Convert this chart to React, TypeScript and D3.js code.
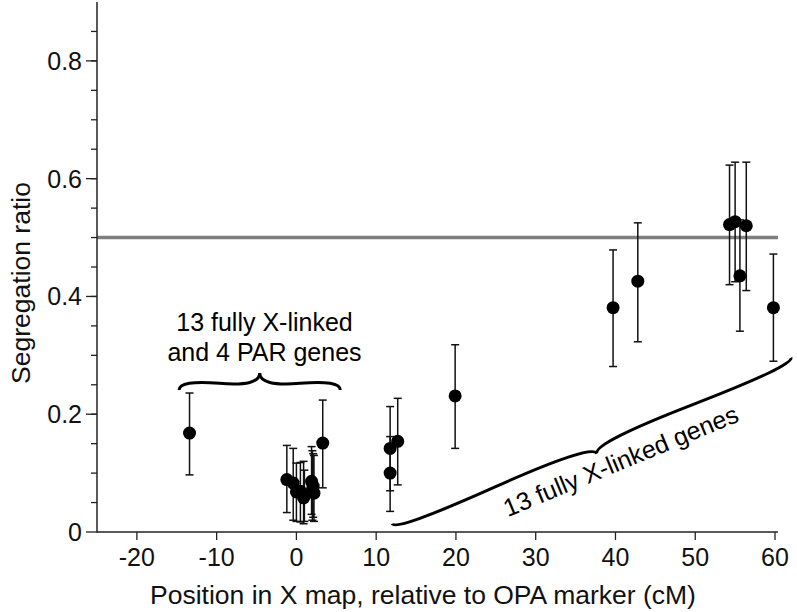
import React from "react";
import * as d3 from "d3";

// ---- data ----
// left group (PAR + some X-linked) and right group (fully X-linked)
const positions = [-13.4, -1.2, -0.4, 0.0, 0.5, 0.9, 1.0, 1.9, 2.0, 2.1, 2.2, 3.3, 11.75, 11.75, 12.7, 19.9, 39.7, 42.8, 54.3, 55.0, 55.6, 56.4, 59.8];
const ratios = [0.168, 0.089, 0.083, 0.068, 0.069, 0.058, 0.062, 0.086, 0.072, 0.078, 0.066, 0.151, 0.1, 0.142, 0.154, 0.231, 0.381, 0.426, 0.522, 0.527, 0.435, 0.52, 0.381];
const lowers = [0.097, 0.033, 0.02, 0.018, 0.017, 0.014, 0.018, 0.03, 0.02, 0.025, 0.018, 0.075, 0.035, 0.07, 0.08, 0.142, 0.281, 0.323, 0.42, 0.425, 0.341, 0.41, 0.29];
const uppers = [0.236, 0.147, 0.142, 0.117, 0.118, 0.12, 0.105, 0.145, 0.138, 0.133, 0.13, 0.224, 0.162, 0.213, 0.227, 0.318, 0.479, 0.525, 0.623, 0.628, 0.53, 0.628, 0.472];

const xTicks = [-20, -10, 0, 10, 20, 30, 40, 50, 60];
const yTicks = [0, 0.2, 0.4, 0.6, 0.8];
const yMinorTicks = d3.range(0.05, 0.9, 0.05);
const expectedRatio = 0.5;

const xLabel = "Position in X map, relative to OPA marker (cM)";
const yLabel = "Segregation ratio";
const leftNote = ["13 fully X-linked", "and 4 PAR genes"];
const rightNote = "13 fully X-linked genes";

const W = 797;
const H = 612;
const FONT = "'Liberation Sans', Arial, Helvetica, sans-serif";

// curly brace between two points, tip pointing to the left of the direction (x1->x2)
function bracePath(x1: number, y1: number, x2: number, y2: number, w: number, q: number) {
  let dx = x1 - x2;
  let dy = y1 - y2;
  const len = Math.sqrt(dx * dx + dy * dy);
  dx /= len;
  dy /= len;
  const qx1 = x1 + q * w * dy;
  const qy1 = y1 - q * w * dx;
  const qx2 = x1 - 0.25 * len * dx + (1 - q) * w * dy;
  const qy2 = y1 - 0.25 * len * dy - (1 - q) * w * dx;
  const tx1 = x1 - 0.5 * len * dx + w * dy;
  const ty1 = y1 - 0.5 * len * dy - w * dx;
  const qx3 = x2 + q * w * dy;
  const qy3 = y2 - q * w * dx;
  const qx4 = x1 - 0.75 * len * dx + (1 - q) * w * dy;
  const qy4 = y1 - 0.75 * len * dy - (1 - q) * w * dx;
  return `M${x1},${y1} Q${qx1},${qy1} ${qx2},${qy2} T${tx1},${ty1} M${x2},${y2} Q${qx3},${qy3} ${qx4},${qy4} T${tx1},${ty1}`;
}

export default function App() {
  const x = d3.scaleLinear().domain([-25, 60]).range([97, 775]);
  const y = d3.scaleLinear().domain([0, 0.9]).range([532, 2]);
  const axisColor = "#222";

  const points = positions.map((p, i) => ({ p, r: ratios[i], lo: lowers[i], hi: uppers[i] }));

  // brace geometry in data units
  const lb = bracePath(x(5.5), y(0.241), x(-14.7), y(0.241), 17, 0.6);
  const rb = bracePath(x(12.0), y(0.014), x(62.0), y(0.296), 14, 0.6);

  return (
    <svg width={W} height={H} style={{ position: "absolute", left: 0, top: 0, background: "#fff" }} fontFamily={FONT}>
      {/* expected 1:1 line */}
      <line x1={x(-25)} x2={778} y1={y(expectedRatio)} y2={y(expectedRatio)} stroke="#7f7f7f" strokeWidth={3.5} />

      {/* y axis */}
      <line x1={x(-25)} x2={x(-25)} y1={y(0.9)} y2={y(0) + 0.75} stroke={axisColor} strokeWidth={1.5} />
      {yMinorTicks.map((t) => (
        <line key={"m" + t} x1={x(-25) - 6} x2={x(-25)} y1={y(t)} y2={y(t)} stroke={axisColor} strokeWidth={1.3} />
      ))}
      {yTicks.map((t) => (
        <g key={"y" + t}>
          <line x1={x(-25) - 11} x2={x(-25)} y1={y(t)} y2={y(t)} stroke={axisColor} strokeWidth={1.3} />
          <text x={x(-25) - 15} y={y(t)} dy="0.36em" textAnchor="end" fontSize={25} fill="#111">
            {t === 0 ? "0" : d3.format(".1f")(t)}
          </text>
        </g>
      ))}
      <text transform={`translate(30,${(y(0) + y(0.9)) / 2 + 16}) rotate(-90)`} textAnchor="middle" fontSize={26.5} fill="#111">
        {yLabel}
      </text>

      {/* x axis */}
      <line x1={x(-25)} x2={778} y1={y(0)} y2={y(0)} stroke={axisColor} strokeWidth={1.5} />
      {xTicks.map((t) => (
        <g key={"x" + t}>
          <line x1={x(t)} x2={x(t)} y1={y(0)} y2={y(0) + 8} stroke={axisColor} strokeWidth={1.3} />
          <text x={x(t)} y={566} textAnchor="middle" fontSize={25} fill="#111">
            {t}
          </text>
        </g>
      ))}
      <text x={423} y={604} textAnchor="middle" fontSize={26.5} fill="#111">
        {xLabel}
      </text>

      {/* error bars */}
      {points.map((d, i) => (
        <g key={"e" + i} stroke="#111" strokeWidth={1.5}>
          <line x1={x(d.p)} x2={x(d.p)} y1={y(d.lo)} y2={y(d.hi)} />
          <line x1={x(d.p) - 4} x2={x(d.p) + 4} y1={y(d.lo)} y2={y(d.lo)} />
          <line x1={x(d.p) - 4} x2={x(d.p) + 4} y1={y(d.hi)} y2={y(d.hi)} />
        </g>
      ))}
      {/* points */}
      {points.map((d, i) => (
        <circle key={"c" + i} cx={x(d.p)} cy={y(d.r)} r={6.5} fill="#000" />
      ))}

      {/* annotations */}
      <path d={lb} fill="none" stroke="#000" strokeWidth={3} />
      <text x={x(-4)} y={331} textAnchor="middle" fontSize={25} fill="#000">
        {leftNote[0]}
      </text>
      <text x={x(-4)} y={361} textAnchor="middle" fontSize={25} fill="#000">
        {leftNote[1]}
      </text>
      <path d={rb} fill="none" stroke="#000" strokeWidth={3} />
      <text transform={`translate(624,469) rotate(-22.5)`} textAnchor="middle" fontSize={25} fill="#000">
        {rightNote}
      </text>
    </svg>
  );
}
